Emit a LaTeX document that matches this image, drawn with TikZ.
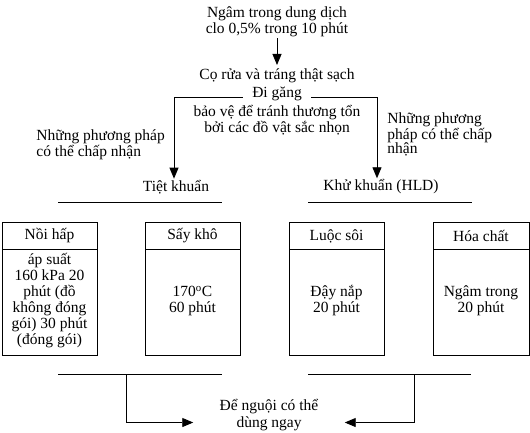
\documentclass[tikz,border=0pt]{standalone}
\usepackage{fontspec}
\setmainfont{Liberation Serif}
\usetikzlibrary{arrows.meta}
\tikzset{
    txt/.style={align=center,inner sep=1pt,font=\fontsize{15.5}{16}\selectfont},
    notetxt/.style={align=left,anchor=west,inner sep=1pt,font=\fontsize{15.5}{15.5}\selectfont},
    flow/.style={-{Triangle[width=9pt,length=11pt]}},
}
\newcommand\MethodBox[5]{%
    \draw (#2,222) rectangle (#3,355);
    \draw[line width=1.8pt] (#2,249.5) -- (#3,249.5);
    \node[txt] (#1Head) at ({(#2+#3)/2},236) {#4};
    \node[txt] (#1Body) at ({(#2+#3)/2},301) {#5};
}

\begin{document}
\begin{tikzpicture}[x=1pt,y=-1pt,line width=0.9pt]
    \useasboundingbox (0,0) rectangle (530,432);
    \node[txt] (soak) at (277,21.5) {Ngâm trong dung dịch\\clo 0,5\% trong 10 phút};
    \node[txt] (clean) at (277,75.5) {Cọ rửa và tráng thật sạch};
    \node[txt,inner xsep=9pt] (gloves) at (277,93.5) {Đi găng};
    \node[txt] (protect) at (277,120) {bảo vệ để tránh thương tổn\\bởi các đồ vật sắc nhọn};
    \draw[flow,shorten >=2pt] (soak.south) -- (clean.north);
    \begin{scope} % hai nhanh
        \coordinate (forkL) at (174,97);
        \coordinate (forkR) at (377,97);
        \node[txt] (steril) at (176,187) {Tiệt khuẩn};
        \node[txt] (hld) at (381,187) {Khử khuẩn (HLD)};
        \draw[flow] (gloves.west |- forkL) -- (forkL) -- (forkL |- steril.north);
        \draw[flow] (gloves.east |- forkR) -- (forkR) -- (forkR |- hld.north);
        \draw (58,202) -- (222,202);
        \draw (308,202) -- (472,202);
    \end{scope}
    \node[notetxt] (noteL) at (35,145) {Những phương pháp\\có thể chấp nhận};
    \node[notetxt,font=\fontsize{15.5}{14.5}\selectfont] (noteR) at (386,134.5) {Những phương\\pháp có thể chấp\\nhận};
    % cac phuong phap
    \MethodBox{autoclave}{2}{97}{Nồi hấp}{áp suất\\160 kPa 20\\phút (đồ\\không đóng\\gói) 30 phút\\(đóng gói)}
    \MethodBox{dry}{145}{240}{Sấy khô}{170\textsuperscript{o}C\\60 phút}
    \MethodBox{boil}{289}{384}{Luộc sôi}{Đậy nắp\\20 phút}
    \MethodBox{chem}{433}{529}{Hóa chất}{Ngâm trong\\20 phút}
    \begin{scope} % de nguoi
        \draw (58,374.5) -- (222,374.5);
        \draw (308,374.5) -- (471,374.5);
        \node[txt,inner xsep=26pt,font=\fontsize{15.5}{17}\selectfont] (cool) at (269,415) {Để nguội có thể\\dùng ngay};
        \coordinate (dropL) at (126,374.5);
        \coordinate (dropR) at (414,374.5);
        \draw[flow] (dropL) -- ++(0,48) coordinate (turnL) -- (turnL -| cool.west);
        \draw[flow] (dropR) -- ++(0,48) coordinate (turnR) -- (turnR -| cool.east);
    \end{scope}
\end{tikzpicture}
\end{document}
